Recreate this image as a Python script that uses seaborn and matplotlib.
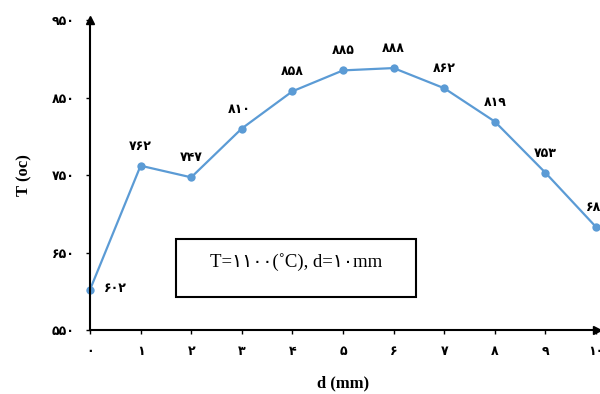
import matplotlib
matplotlib.use("Agg")
import matplotlib.pyplot as plt
import seaborn as sns
import pandas as pd
from matplotlib.patches import Rectangle

d_mm = [0, 1, 2, 3, 4, 5, 6, 7, 8, 9, 10]
temps = [602, 762, 747, 810, 858, 885, 888, 862, 819, 753, 683]
y_ticks = [550, 650, 750, 850, 950]
box_text = "T=۱۱۰۰(˚C), d=۱۰mm"
x_label = "d (mm)"
y_label = "T (oc)"

FA = str.maketrans("0123456789", "۰۱۲۳۴۵۶۷۸۹")
def fa(v):
    return str(v).translate(FA)

sns.set_theme(style="white")
plt.rcParams['font.family'] = ['DejaVu Sans']
plt.rcParams['text.color'] = 'black'
plt.rcParams['axes.labelcolor'] = 'black'
plt.rcParams['xtick.color'] = 'black'
plt.rcParams['ytick.color'] = 'black'

fig = plt.figure(figsize=(6.0, 3.94), dpi=100)
ax = fig.add_axes([0.15, 0.1624, 0.8433, 0.7868])

df = pd.DataFrame({"d": d_mm, "T": temps})
sns.lineplot(data=df, x="d", y="T", ax=ax, color="#5B9BD5", linewidth=1.6,
             marker="o", markersize=6, markeredgewidth=0, markeredgecolor="#5B9BD5",
             clip_on=False)

ax.set_xlim(0, 10)
ax.set_ylim(550, 950)
ax.set_xticks(d_mm)
ax.set_xticklabels([fa(v) for v in d_mm], fontweight="bold", fontsize=9, color="black")
ax.set_yticks(y_ticks)
ax.set_yticklabels([fa(v) for v in y_ticks], fontweight="bold", fontsize=9, color="black")
ax.tick_params(axis="both", direction="out", length=3, width=1, colors="black",
               bottom=True, left=True)
ax.tick_params(axis="y", pad=8)
ax.tick_params(axis="x", pad=8)

for s in ["top", "right"]:
    ax.spines[s].set_visible(False)
for s in ["left", "bottom"]:
    ax.spines[s].set_color("black")
    ax.spines[s].set_linewidth(1.5)

# axis arrows
ax.plot(0, 1, marker="^", color="black", markersize=6, transform=ax.transAxes, clip_on=False)
ax.plot(1.003, 0, marker=">", color="black", markersize=6, transform=ax.transAxes, clip_on=False)

# value labels
for x, t in zip(d_mm, temps):
    if x == 0:
        ax.annotate(fa(t), (x, t), xytext=(18, 1), textcoords="offset points",
                    ha="center", va="center", fontsize=9, fontweight="bold", color="black")
    else:
        dx = {3: -2, 10: 1}.get(x, 0)
        ax.annotate(fa(t), (x, t), xytext=(dx, 14), textcoords="offset points",
                    ha="center", va="center", fontsize=9, fontweight="bold", color="black")

ax.set_xlabel(x_label, fontfamily="Liberation Serif", fontweight="bold", fontsize=12, labelpad=12)
ax.set_ylabel(y_label, fontfamily="Liberation Serif", fontweight="bold", fontsize=12, labelpad=14)

# text box
ax.add_patch(Rectangle((0.170, 0.105), 0.475, 0.19, transform=ax.transAxes,
                       fill=False, edgecolor="black", linewidth=1.5))
ax.text(0.4075, 0.22, box_text, transform=ax.transAxes, ha="center", va="center",
        fontsize=13.5, family=["Liberation Serif", "DejaVu Sans"])

fig.savefig("out.png", dpi=100)
